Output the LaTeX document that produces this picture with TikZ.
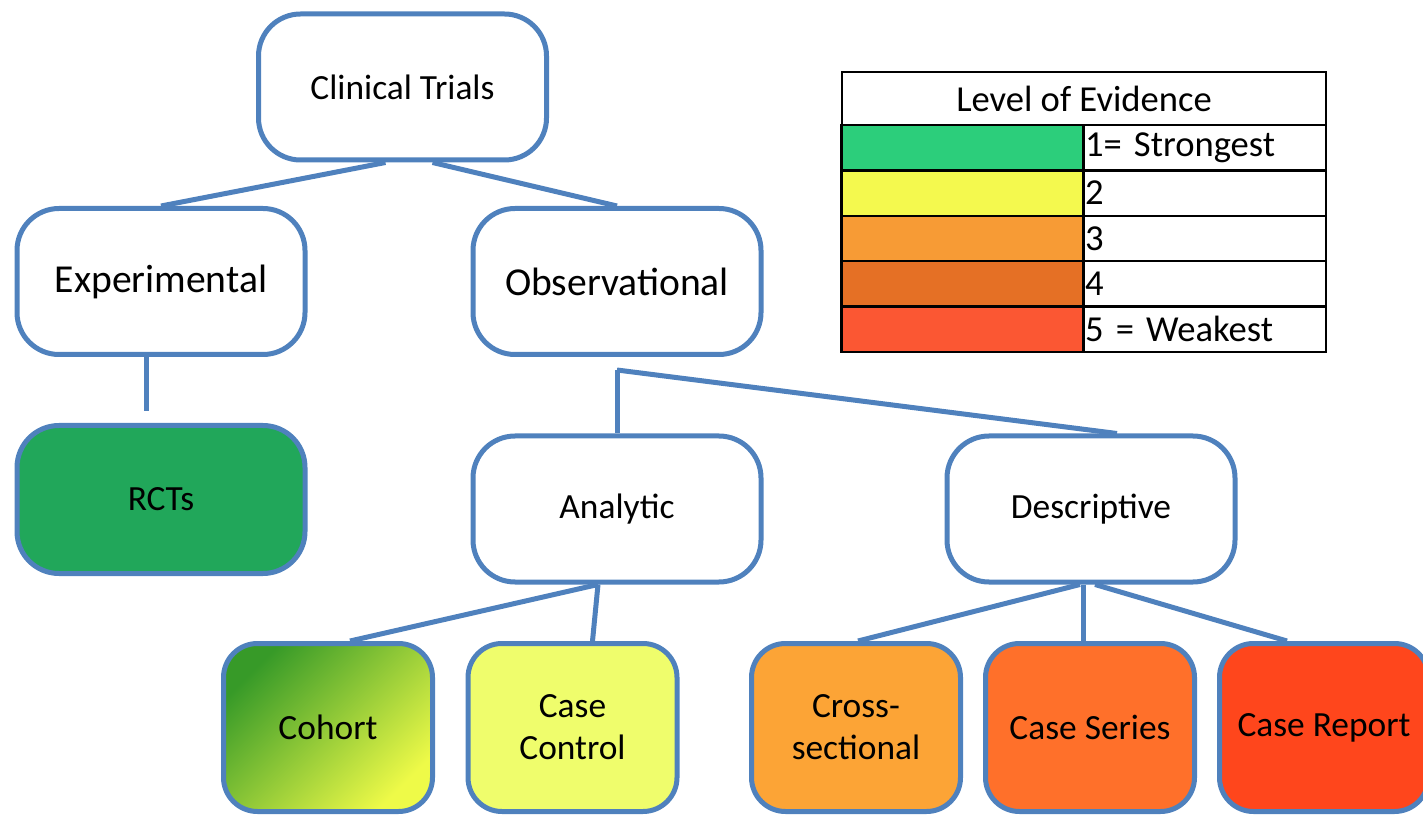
\documentclass[tikz,border=0pt]{standalone}
\usepackage{fontspec}
\setmainfont{Carlito}
\usetikzlibrary{calc}
\definecolor{boxblue}{HTML}{4F81BD}
\definecolor{rctgreen}{HTML}{21A75A}
\definecolor{cohdark}{HTML}{379A28}
\definecolor{cohlight}{HTML}{EEFA48}
\definecolor{ccyellow}{HTML}{EFFD6C}
\definecolor{csorange}{HTML}{FCA436}
\definecolor{serorange}{HTML}{FF702A}
\definecolor{repred}{HTML}{FF461C}
\definecolor{levone}{HTML}{2CCE7B}
\definecolor{levtwo}{HTML}{F4F94E}
\definecolor{levthree}{HTML}{F79B35}
\definecolor{levfour}{HTML}{E57025}
\definecolor{levfive}{HTML}{FB5733}

\begin{document}
\begin{tikzpicture}[x=0.5pt, y=-0.5pt]
  \tikzset{box/.style={draw=boxblue, line width=2.5pt, rounded corners=21pt, align=center,
      inner sep=0pt, minimum width=144pt, minimum height=73pt, font=\fontsize{17.7}{21}\selectfont},
    bigbox/.style={box, font=\fontsize{19.8}{23}\selectfont},
    leaf/.style={box, minimum width=104.5pt, minimum height=84pt, rounded corners=17pt},
    link/.style={draw=boxblue, line width=2.5pt},
    legcell/.style={draw=black, line width=1.25pt, minimum width=121pt, minimum height=22.7pt,
      inner sep=0pt, font=\fontsize{18.3}{21}\selectfont}}
  \useasboundingbox (0,0) rectangle (1423,817);
    \node[box] (trials) at (402.5,87) {Clinical Trials};
    \node[bigbox] (exper) at (161,281.5) {Experimental};
    \node[bigbox] (obser) at (617,281.5) {Observational};
    \node[box, fill=rctgreen, minimum height=74pt] (rcts) at (161,499.5) {RCTs};
    \node[box] (analytic) at (617,509) {Analytic};
    \node[box] (descr) at (1091,509) {Descriptive};
    \node[leaf, top color=cohdark, bottom color=cohlight, shading angle=45] (cohort) at (328,727.5) {Cohort};
    \node[leaf, fill=ccyellow] (casectl) at (572.5,727.5) {Case\\Control};
    \node[leaf, fill=csorange] (cross) at (856,727.5) {Cross-\\sectional};
    \node[leaf, fill=serorange] (series) at (1090,727.5) {Case Series};
    \node[leaf, fill=repred] (report) at (1324,727.5) {Case Report};
    \coordinate (rcttop) at (146,411);
    \coordinate (obsfork) at (617,370);
    \draw[link] ($(trials.south)+(-17,0)$) -- (exper.north);
    \draw[link] ($(trials.south)+(30,0)$) -- (obser.north);
    \draw[link] (exper.south -| rcttop) -- (rcttop);
    \draw[link] (obsfork) -- (analytic.north);
    \draw[link] (obsfork) -- ($(descr.north)+(26,0)$);
    \draw[link] ($(analytic.south)+(-19,0)$) -- ($(cohort.north)+(22,0)$);
    \draw[link] ($(analytic.south)+(-19,0)$) -- ($(casectl.north)+(20,0)$);
    \draw[link] ($(descr.south)+(-11,0)$) -- ($(cross.north)+(2,0)$);
    \draw[link] ($(descr.south)+(-8,0)$) -- ($(series.north)+(-7,0)$);
    \draw[link] ($(descr.south)+(4,0)$) -- ($(report.north)+(-37,0)$);
    \node[legcell, minimum width=242pt, minimum height=26.5pt] (legend) at (1084,98.5) {Level of Evidence};
    \foreach \i/\col/\txt in {0/levone/{1= Strongest}, 1/levtwo/2, 2/levthree/3, 3/levfour/4, 4/levfive/{5 = Weakest}}{
      \node[legcell, fill=\col] (swatch\i) at (962.5,147.7+45.4*\i) {};
      \node[legcell, text width=119.5pt, inner xsep=1pt, align=left] (level\i) at (1204.5,147.7+45.4*\i) {\txt};
    }
\end{tikzpicture}
\end{document}
